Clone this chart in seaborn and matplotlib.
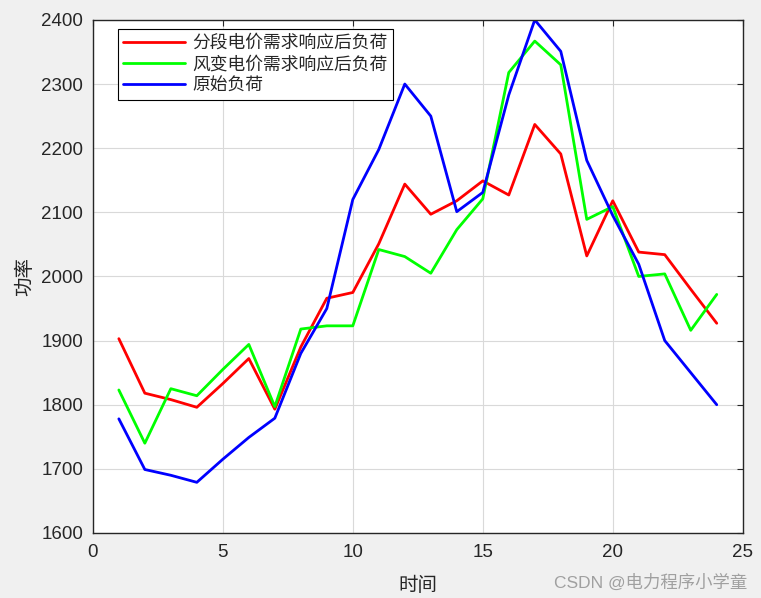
import matplotlib.pyplot as plt
import seaborn as sns
import pandas as pd

# hours
hours = list(range(1, 25))

# load after time-of-use (piecewise) price response
load_piecewise = [1903, 1818, 1808, 1796, 1833, 1872, 1793, 1890, 1966, 1975, 2051, 2144,
                  2097, 2118, 2149, 2127, 2237, 2191, 2032, 2118, 2038, 2034, 1980, 1927]
# load after wind-varying price response
load_wind = [1823, 1740, 1825, 1814, 1855, 1894, 1797, 1918, 1923, 1923, 2042, 2031,
             2005, 2073, 2121, 2318, 2367, 2330, 2089, 2109, 2000, 2004, 1916, 1972]
# original load
load_orig = [1778, 1699, 1690, 1679, 1715, 1749, 1779, 1880, 1950, 2120, 2198, 2300,
             2250, 2101, 2131, 2283, 2400, 2351, 2181, 2095, 2019, 1900, 1850, 1800]

names = ['分段电价需求响应后负荷', '风变电价需求响应后负荷', '原始负荷']
colors = ['#ff0000', '#00ff00', '#0000ff']

df = pd.DataFrame({
    'hour': hours * 3,
    'power': load_piecewise + load_wind + load_orig,
    'series': [names[0]] * 24 + [names[1]] * 24 + [names[2]] * 24,
})

sns.set_style('white')
plt.rcParams['font.family'] = ['Liberation Sans', 'Noto Sans CJK SC', 'DejaVu Sans']

fig = plt.figure(figsize=(7.61, 5.98), dpi=100, facecolor='#f0f0f0')
ax = fig.add_axes([0.122, 0.1087, 0.854, 0.858])
ax.set_facecolor('white')

sns.lineplot(data=df, x='hour', y='power', hue='series', palette=colors,
             linewidth=2, ax=ax)

ax.set_xlim(0, 25)
ax.set_ylim(1600, 2400)
ax.set_xticks([0, 5, 10, 15, 20, 25])
ax.set_yticks(range(1600, 2401, 100))
ax.grid(True, color='#d9d9d9', linewidth=0.8)
ax.tick_params(direction='in', top=True, right=True, labelsize=13.5, length=4,
               colors='#262626')
ax.tick_params(axis='x', pad=8)
ax.tick_params(axis='y', pad=7)
for s in ax.spines.values():
    s.set_color('#262626')
    s.set_linewidth(1.0)

ax.set_xlabel('时间', fontsize=14, family=['Noto Sans CJK SC'], color='#262626',
              labelpad=10)
ax.set_ylabel('功率', fontsize=14, family=['Noto Sans CJK SC'], color='#262626',
              labelpad=4)

leg = ax.legend(loc='upper left', bbox_to_anchor=(0.038, 0.983), frameon=True,
                fancybox=False, edgecolor='black', framealpha=1,
                prop={'family': ['Noto Sans CJK SC'], 'size': 12.8},
                handlelength=3.5, borderpad=0.3, labelspacing=0.18,
                handletextpad=0.4, borderaxespad=0)
leg.get_frame().set_linewidth(0.8)

fig.text(0.982, 0.012, 'CSDN @电力程序小学童', ha='right', va='bottom',
         fontsize=12.5, color='#a0a0a0', family=['Liberation Sans', 'Noto Sans CJK SC'])

fig.savefig('out.png', dpi=100, facecolor=fig.get_facecolor())
